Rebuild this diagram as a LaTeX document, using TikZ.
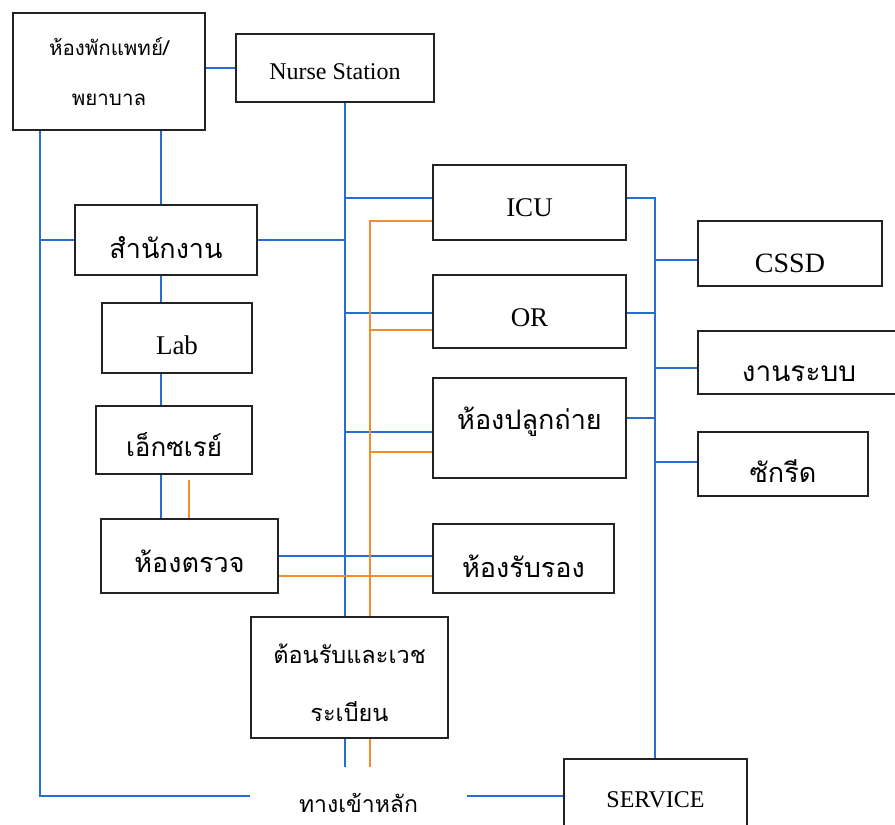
\documentclass[tikz,border=0pt]{standalone}
\usepackage{fontspec}
\setmainfont{Liberation Serif}
\newfontfamily\thai[Script=Thai]{Loma}
\definecolor{lineblue}{RGB}{40,110,210}
\definecolor{lineorange}{RGB}{245,140,40}
\definecolor{boxline}{RGB}{35,35,35}
% lower a label inside its box without changing the box extents
\newcommand\sink[2][6pt]{\raisebox{-#1}[\height][\depth]{#2}}
\begin{document}
\begin{tikzpicture}[x=1pt,y=-1pt,
  room/.style 2 args={draw=boxline, line width=1.6pt, fill=white, inner sep=0pt,
    minimum width=#1pt, minimum height=#2pt, align=center},
  th/.style={font=\thai\fontsize{#1}{#1}\selectfont},
  la/.style={font=\fontsize{#1}{#1}\selectfont},
  bl/.style={draw=lineblue, line width=1.8pt},
  ol/.style={draw=lineorange, line width=1.8pt}]
\useasboundingbox (0,0) rectangle (895,825);

% rooms
\node[room={192}{117}, font=\thai\fontsize{20.5}{50}\selectfont] (doc) at (109,71.5) {ห้องพักแพทย์/\\พยาบาล};
\node[room={198}{68}, la=24] (nurse) at (335,68) {\sink[4pt]{Nurse Station}};
\node[room={182}{70}, th=27] (office) at (166,240) {\sink[8pt]{สำนักงาน}};
\node[room={150}{70}, la=27] (lab) at (177,338) {\sink[7pt]{Lab}};
\node[room={156}{68}, th=26] (xray) at (174,440) {\sink[4.5pt]{เอ็กซเรย์}};
\node[room={177}{74}, th=27] (exam) at (189.5,556) {\sink[5pt]{ห้องตรวจ}};
\node[room={193}{75}, la=27] (icu) at (529.5,202.5) {\sink[5pt]{ICU}};
\node[room={193}{73}, la=27] (orroom) at (529.5,311.5) {\sink[6pt]{OR}};
\node[room={193}{100}, th=27] (transplant) at (529.5,428) {\sink[-6pt]{ห้องปลูกถ่าย}};
\node[room={184}{65}, la=28] (cssd) at (790,253.5) {\sink[10pt]{CSSD}};
\node[room={202}{63}, th=28] (sys) at (799,362.5) {\sink[11pt]{งานระบบ}};
\node[room={170}{64}, th=27] (laundry) at (783,464) {\sink[7.5pt]{ซักรีด}};
\node[room={181}{69}, th=27] (lounge) at (523.5,558.5) {\sink[8pt]{ห้องรับรอง}};
\node[room={197}{121}, font=\thai\fontsize{23.5}{58}\selectfont] (reception) at (349.5,677.5) {\sink[5pt]{ต้อนรับและเวช}\\\sink[5pt]{ระเบียน}};
\node[room={183}{82}, la=24] (service) at (655.5,800) {SERVICE};
\node[th=23, minimum width=217pt, inner sep=0pt] (entrance) at (358.5,796) {\sink[7pt]{ทางเข้าหลัก}};

% corridor positions
\coordinate (busL) at (40,796);
\coordinate (colC) at (161,0);
\coordinate (colO) at (189,0);
\coordinate (busA) at (345,0);
\coordinate (busO) at (370,0);
\coordinate (busR) at (655,0);
\coordinate (hIcuB) at (0,198);
\coordinate (hIcuO) at (0,221);
\coordinate (hOrB) at (0,313);
\coordinate (hOrO) at (0,330);
\coordinate (hTxB) at (0,432);
\coordinate (hTxO) at (0,452);
\coordinate (hTxR) at (0,418);
\coordinate (hExO) at (0,576);
\coordinate (hCssd) at (0,260);
\coordinate (hSys) at (0,368);
\coordinate (hLaundry) at (0,462);
\coordinate (stubEnd) at (0,767);

% blue links
\draw[bl] (doc.east |- nurse.west) -- (nurse.west);
\draw[bl] (colC |- doc.south) -- (colC |- office.north);
\draw[bl] (colC |- office.south) -- (colC |- lab.north);
\draw[bl] (colC |- lab.south) -- (colC |- xray.north);
\draw[bl] (colC |- xray.south) -- (colC |- exam.north);
\draw[bl] (busL |- doc.south) -- (busL) -- (entrance.west);
\draw[bl] (busL |- office.west) -- (office.west);
\draw[bl] (office.east) -- (office.east -| busA);
\draw[bl] (busA |- nurse.south) -- (busA |- reception.north);
\draw[bl] (busA |- hIcuB) -- (icu.west |- hIcuB);
\draw[bl] (busA |- hOrB) -- (orroom.west |- hOrB);
\draw[bl] (busA |- hTxB) -- (transplant.west |- hTxB);
\draw[bl] (exam.east) -- (exam.east -| lounge.west);
\draw[bl] (busA |- reception.south) -- (busA |- stubEnd);
\draw[bl] (icu.east |- hIcuB) -- (busR |- hIcuB) -- (busR |- service.north);
\draw[bl] (busR |- hCssd) -- (cssd.west |- hCssd);
\draw[bl] (orroom.east |- hOrB) -- (busR |- hOrB);
\draw[bl] (busR |- hSys) -- (sys.west |- hSys);
\draw[bl] (transplant.east |- hTxR) -- (busR |- hTxR);
\draw[bl] (busR |- hLaundry) -- (laundry.west |- hLaundry);
\draw[bl] (entrance.east) -- (service.west |- entrance.east);

% orange links
\draw[ol] (icu.west |- hIcuO) -- (busO |- hIcuO) -- (busO |- reception.north);
\draw[ol] (busO |- hOrO) -- (orroom.west |- hOrO);
\draw[ol] (busO |- hTxO) -- (transplant.west |- hTxO);
\draw[ol] (exam.east |- hExO) -- (lounge.west |- hExO);
\draw[ol] (busO |- reception.south) -- (busO |- stubEnd);
\draw[ol, shorten <=5pt] (colO |- xray.south) -- (colO |- exam.north);
\end{tikzpicture}
\end{document}
